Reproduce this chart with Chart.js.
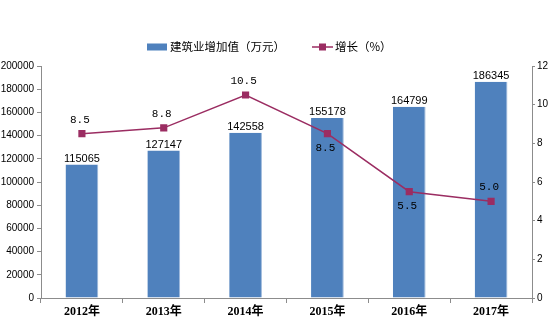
<!DOCTYPE html>
<html><head><meta charset="utf-8">
<script src="https://cdn.jsdelivr.net/npm/chart.js@4/dist/chart.umd.min.js"></script>
<style>html,body{margin:0;padding:0;background:#fff}#wrap{width:553px;height:325px}</style>
</head><body><div id="wrap"><canvas id="c" width="553" height="325"></canvas></div>
<script>
const categories = ['2012年','2013年','2014年','2015年','2016年','2017年'];
const valueAdded = [115065,127147,142558,155178,164799,186345];
const growth = [8.5,8.8,10.5,8.5,5.5,5.0];
const growthLabelPos = ['above','above','above','below','below','above'];
const leftTicks = [0,20000,40000,60000,80000,100000,120000,140000,160000,180000,200000];
const rightTicks = [0,2,4,6,8,10,12];
const seriesNames = ['建筑业增加值（万元）','增长（%）'];

const BAR = '#4F81BD', LINE = '#9B2D62', AXIS = '#8C8C8C';

const labelPlugin = {
  id:'labels',
  afterDatasetsDraw(chart){
    const ctx = chart.ctx;
    ctx.save();
    ctx.fillStyle = '#000';
    ctx.textAlign = 'center';
    ctx.font = '11px "Liberation Sans", sans-serif';
    ctx.textBaseline = 'bottom';
    chart.getDatasetMeta(1).data.forEach((el,i)=>{
      ctx.fillText(String(valueAdded[i]), el.x, el.y - 0.5);
    });
    ctx.font = '11px "Liberation Mono", monospace';
    ctx.textBaseline = 'middle';
    chart.getDatasetMeta(0).data.forEach((el,i)=>{
      const dy = growthLabelPos[i]==='above' ? -14 : 14;
      ctx.fillText(growth[i].toFixed(1), el.x - 2, el.y + dy);
    });
    ctx.restore();
  },
  afterDraw(chart){
    const ctx = chart.ctx;
    ctx.save();
    const y = 47;
    ctx.fillStyle = BAR;
    ctx.fillRect(147, y-3.5, 20, 7);
    ctx.fillStyle = '#000';
    ctx.font = '11.5px "Noto Sans CJK SC", sans-serif';
    ctx.textBaseline = 'middle';
    ctx.textAlign = 'left';
    ctx.fillText(seriesNames[0], 170, y);
    ctx.strokeStyle = LINE; ctx.lineWidth = 1.5;
    ctx.beginPath(); ctx.moveTo(312, y); ctx.lineTo(333, y); ctx.stroke();
    ctx.fillStyle = LINE;
    ctx.fillRect(319, y-3.5, 7, 7);
    ctx.fillStyle = '#000';
    ctx.fillText(seriesNames[1], 335, y);
    ctx.restore();
  }
};

new Chart(document.getElementById('c'), {
  data:{
    labels: categories,
    datasets:[
      {type:'line', label:seriesNames[1], data:growth, yAxisID:'y1', borderColor:LINE, backgroundColor:LINE,
       borderWidth:1.5, pointStyle:'rect', pointRadius:4, pointHoverRadius:4, tension:0, order:0},
      {type:'bar', label:seriesNames[0], data:valueAdded, yAxisID:'y', backgroundColor:BAR,
       borderColor:'#9DB8DB', borderWidth:{right:1}, barPercentage:0.4, categoryPercentage:1, order:1}
    ]
  },
  options:{
    responsive:false, animation:false,
    layout:{padding:{top:66,left:0,right:0,bottom:0}},
    plugins:{legend:{display:false}, tooltip:{enabled:false}},
    scales:{
      x:{
        offset:true,
        grid:{offset:true, drawOnChartArea:false, drawTicks:true, tickLength:5, color:AXIS},
        border:{color:AXIS, width:1},
        ticks:{color:'#000', font:{family:'"Liberation Serif","Noto Sans CJK SC",serif', size:12, weight:'bold'}, padding:2, maxRotation:0},
        afterFit(s){ s.height = 27; }
      },
      y:{
        position:'left', min:0, max:200000,
        afterBuildTicks(s){ s.ticks = leftTicks.map(v=>({value:v})); },
        grid:{drawOnChartArea:false, drawTicks:true, tickLength:4, color:AXIS},
        border:{color:AXIS, width:1},
        ticks:{color:'#000', font:{family:'"Liberation Sans",sans-serif', size:10}, padding:3, callback:v=>String(v)},
        afterFit(s){ s.width = 41; }
      },
      y1:{
        position:'right', min:0, max:12,
        afterBuildTicks(s){ s.ticks = rightTicks.map(v=>({value:v})); },
        grid:{drawOnChartArea:false, drawTicks:true, tickLength:3, color:AXIS},
        border:{color:AXIS, width:1},
        ticks:{color:'#000', font:{family:'"Liberation Sans",sans-serif', size:10}, padding:2, callback:v=>String(v)},
        afterFit(s){ s.width = 21; }
      }
    }
  },
  plugins:[labelPlugin]
});
</script></body></html>
